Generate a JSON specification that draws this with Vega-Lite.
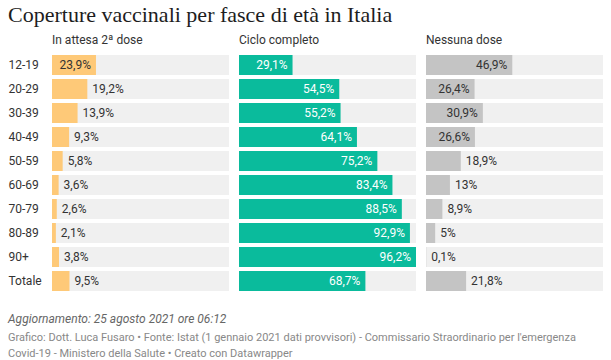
{
  "$schema": "https://vega.github.io/schema/vega-lite/v6.json",
  "padding": {"left": 8, "top": 4, "right": 0, "bottom": 0},
  "background": "#ffffff",
  "title": {"text": "Coperture vaccinali per fasce di età in Italia", "anchor": "start", "font": "Liberation Serif", "fontSize": 22, "fontWeight": "normal", "color": "#1d1d1d", "offset": 7},
  "datasets": {
    "vacc": [
      {"eta": "12-19", "attesa": 23.9, "ciclo": 29.1, "nessuna": 46.9},
      {"eta": "20-29", "attesa": 19.2, "ciclo": 54.5, "nessuna": 26.4},
      {"eta": "30-39", "attesa": 13.9, "ciclo": 55.2, "nessuna": 30.9},
      {"eta": "40-49", "attesa": 9.3, "ciclo": 64.1, "nessuna": 26.6},
      {"eta": "50-59", "attesa": 5.8, "ciclo": 75.2, "nessuna": 18.9},
      {"eta": "60-69", "attesa": 3.6, "ciclo": 83.4, "nessuna": 13},
      {"eta": "70-79", "attesa": 2.6, "ciclo": 88.5, "nessuna": 8.9},
      {"eta": "80-89", "attesa": 2.1, "ciclo": 92.9, "nessuna": 5},
      {"eta": "90+", "attesa": 3.8, "ciclo": 96.2, "nessuna": 0.1},
      {"eta": "Totale", "attesa": 9.5, "ciclo": 68.7, "nessuna": 21.8}
    ]
  },
  "vconcat": [
    {
      "title": {
        "text": "Aggiornamento: 25 agosto 2021 ore 06:12",
        "subtitle": ["Grafico: Dott. Luca Fusaro • Fonte: Istat (1 gennaio 2021 dati provvisori) - Commissario Straordinario per l'emergenza", "Covid-19 - Ministero della Salute • Creato con Datawrapper"],
        "orient": "bottom", "anchor": "start", "offset": 21,
        "font": "Roboto", "fontSize": 12, "fontStyle": "italic", "fontWeight": "normal", "color": "#666666",
        "subtitleFont": "Roboto", "subtitleFontSize": 11, "subtitleColor": "#888888", "subtitleLineHeight": 16, "subtitlePadding": 6
      },
      "spacing": 10,
      "hconcat": [
        {
          "width": 177, "height": 240,
          "data": {"name": "vacc"},
          "title": {"text": "In attesa 2ª dose", "frame": "group"},
          "transform": [{"joinaggregate": [{"op": "max", "field": "ciclo", "as": "maxv"}]}],
          "encoding": {"y": {"field": "eta", "type": "nominal", "sort": null, "scale": {"paddingInner": 0.1667, "paddingOuter": 0.0833},
            "axis": {"title": null, "ticks": false, "domain": false, "labelAlign": "left", "labelPadding": 44, "labelFont": "Roboto", "labelFontSize": 12, "labelColor": "#333333"}}},
          "layer": [
            {"mark": {"type": "bar", "color": "#f0f0f0"}, "encoding": {"x": {"field": "maxv", "type": "quantitative", "axis": null, "scale": {"nice": false, "zero": true}}}},
            {"mark": {"type": "bar", "color": "#fec978"}, "encoding": {"x": {"field": "attesa", "type": "quantitative", "axis": null}}},
            {"transform": [{"filter": "datum.attesa >= 22"}], "mark": {"type": "text", "align": "right", "dx": -5, "font": "Roboto", "fontSize": 12, "color": "#333333"},
              "encoding": {"x": {"field": "attesa", "type": "quantitative", "axis": null}, "text": {"field": "attesa", "type": "quantitative", "format": "$.1~f"}}},
            {"transform": [{"filter": "datum.attesa < 22"}], "mark": {"type": "text", "align": "left", "dx": 5, "font": "Roboto", "fontSize": 12, "color": "#333333"},
              "encoding": {"x": {"field": "attesa", "type": "quantitative", "axis": null}, "text": {"field": "attesa", "type": "quantitative", "format": "$.1~f"}}}
          ]
        },
        {
          "width": 177, "height": 240,
          "data": {"name": "vacc"},
          "title": {"text": "Ciclo completo", "frame": "group"},
          "transform": [{"joinaggregate": [{"op": "max", "field": "ciclo", "as": "maxv"}]}],
          "encoding": {"y": {"field": "eta", "type": "nominal", "sort": null, "scale": {"paddingInner": 0.1667, "paddingOuter": 0.0833}, "axis": null}},
          "layer": [
            {"mark": {"type": "bar", "color": "#f0f0f0"}, "encoding": {"x": {"field": "maxv", "type": "quantitative", "axis": null, "scale": {"nice": false, "zero": true}}}},
            {"mark": {"type": "bar", "color": "#0abb9c"}, "encoding": {"x": {"field": "ciclo", "type": "quantitative", "axis": null}}},
            {"transform": [{"filter": "datum.ciclo >= 22"}], "mark": {"type": "text", "align": "right", "dx": -5, "font": "Roboto", "fontSize": 12, "color": "#ffffff"},
              "encoding": {"x": {"field": "ciclo", "type": "quantitative", "axis": null}, "text": {"field": "ciclo", "type": "quantitative", "format": "$.1~f"}}}
          ]
        },
        {
          "width": 177, "height": 240,
          "data": {"name": "vacc"},
          "title": {"text": "Nessuna dose", "frame": "group"},
          "transform": [{"joinaggregate": [{"op": "max", "field": "ciclo", "as": "maxv"}]}],
          "encoding": {"y": {"field": "eta", "type": "nominal", "sort": null, "scale": {"paddingInner": 0.1667, "paddingOuter": 0.0833}, "axis": null}},
          "layer": [
            {"mark": {"type": "bar", "color": "#f0f0f0"}, "encoding": {"x": {"field": "maxv", "type": "quantitative", "axis": null, "scale": {"nice": false, "zero": true}}}},
            {"mark": {"type": "bar", "color": "#c4c4c4"}, "encoding": {"x": {"field": "nessuna", "type": "quantitative", "axis": null}}},
            {"transform": [{"filter": "datum.nessuna >= 22"}], "mark": {"type": "text", "align": "right", "dx": -5, "font": "Roboto", "fontSize": 12, "color": "#333333"},
              "encoding": {"x": {"field": "nessuna", "type": "quantitative", "axis": null}, "text": {"field": "nessuna", "type": "quantitative", "format": "$.1~f"}}},
            {"transform": [{"filter": "datum.nessuna < 22"}], "mark": {"type": "text", "align": "left", "dx": 5, "font": "Roboto", "fontSize": 12, "color": "#333333"},
              "encoding": {"x": {"field": "nessuna", "type": "quantitative", "axis": null}, "text": {"field": "nessuna", "type": "quantitative", "format": "$.1~f"}}}
          ]
        }
      ]
    }
  ],
  "config": {
    "view": {"stroke": null},
    "locale": {"number": {"decimal": ",", "thousands": ".", "grouping": [3], "currency": ["", "%"]}},
    "title": {"anchor": "start", "font": "Roboto", "fontSize": 12, "fontWeight": "normal", "color": "#333333", "offset": 6},
    "concat": {"spacing": 10}
  }
}
